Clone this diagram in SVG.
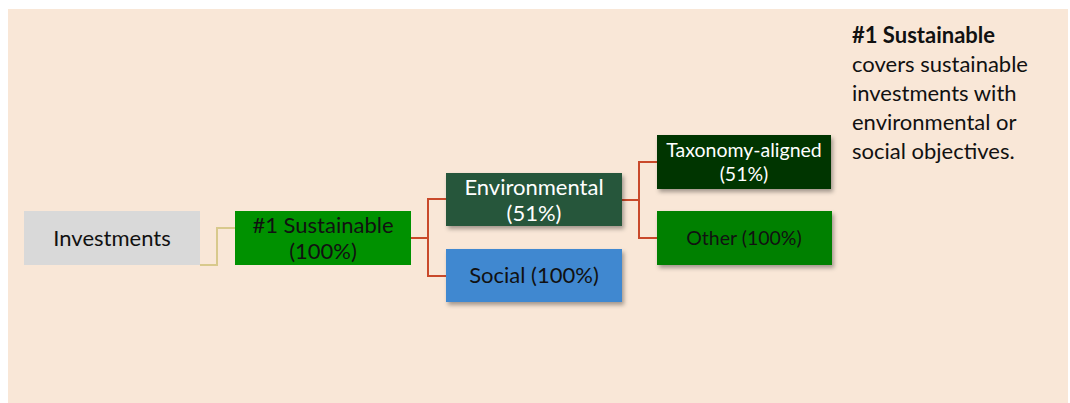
<svg xmlns="http://www.w3.org/2000/svg" width="1070" height="403" viewBox="0 0 1070 403">
<defs>
<filter id="sh" x="-10%" y="-10%" width="130%" height="140%">
<feDropShadow dx="2" dy="3" stdDeviation="2" flood-color="#000" flood-opacity="0.35"/>
</filter>
<style>
text{font-family:Lato,"Liberation Sans",sans-serif;text-anchor:middle}
.t20{font-size:22px}
.t17{font-size:19.5px}
.dark{fill:#111}
.light{fill:#fff}
.conn{fill:none;stroke:#c9492a;stroke-width:2}
.note{font-size:22px;text-anchor:start;fill:#111}
</style>
</defs>
<rect x="8" y="9" width="1060" height="394" fill="#f9e7d7"/>
<g id="connectors">
<path d="M200,265 H217 V228 H235" fill="none" stroke="#d8c98c" stroke-width="2"/>
<path class="conn" d="M411,238 H428 M446,199 H428 V276 H446"/>
<path class="conn" d="M622,200 H639 M657,162 H639 V238 H657"/>
</g>
<g id="investments">
<rect x="24" y="211" width="176" height="54" fill="#d9d9d9"/>
<text class="t20 dark" x="112" y="246">Investments</text>
</g>
<g id="sustainable">
<rect x="235" y="211" width="176" height="54" fill="#009100"/>
<text class="t20 dark" x="323" y="233">#1 Sustainable</text>
<text class="t20 dark" x="323" y="259">(100%)</text>
</g>
<g id="environmental">
<rect x="446" y="173" width="176" height="53" fill="#26573b" filter="url(#sh)"/>
<text class="t20 light" x="534" y="195">Environmental</text>
<text class="t20 light" x="534" y="221">(51%)</text>
</g>
<g id="social">
<rect x="446" y="249" width="176" height="53" fill="#3f88d0" filter="url(#sh)"/>
<text class="t20 dark" x="534" y="283">Social (100%)</text>
</g>
<g id="taxonomy">
<rect x="657" y="135" width="174" height="54" fill="#003600" filter="url(#sh)"/>
<text class="t17 light" x="744" y="157">Taxonomy-aligned</text>
<text class="t17 light" x="744" y="181">(51%)</text>
</g>
<g id="other">
<rect x="657" y="211" width="175" height="54" fill="#008000" filter="url(#sh)"/>
<text class="t17 dark" x="744" y="245">Other (100%)</text>
</g>
<g id="note">
<text class="note" x="852" y="43" font-weight="bold">#1 Sustainable</text>
<text class="note" x="852" y="72">covers sustainable</text>
<text class="note" x="852" y="101">investments with</text>
<text class="note" x="852" y="130">environmental or</text>
<text class="note" x="852" y="159">social objectives.</text>
</g>
</svg>
